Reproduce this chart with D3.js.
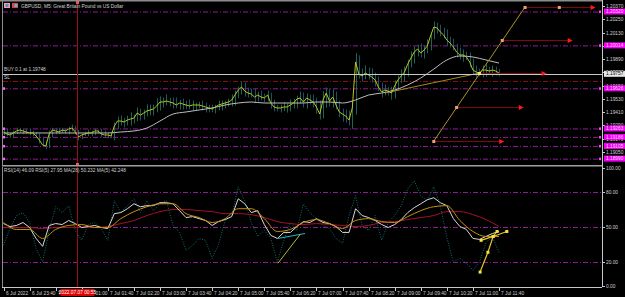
<!DOCTYPE html>
<html>
<head>
<meta charset="utf-8">
<script src="https://cdn.jsdelivr.net/npm/d3@7"></script>
<style>
html, body { margin: 0; padding: 0; background: #000; overflow: hidden; }
svg { display: block; font-family: "Liberation Sans", "DejaVu Sans", sans-serif; }
</style>
</head>
<body>
<script>
const width = 625;
const height = 297;

// GBPUSD M5 closes, one per bar starting 6 Jul 23:00
const closes = [
  1.19231,1.19213,1.19204,1.19222,1.19240,1.19249,1.19240,1.19231,1.19222,1.19222,1.19195,1.19158,1.19113,1.19104,1.19213,1.19249,
  1.19240,1.19231,1.19249,1.19240,1.19258,1.19267,1.19231,1.19186,1.19204,1.19213,1.19222,1.19222,1.19240,1.19240,1.19213,1.19204,
  1.19204,1.19195,1.19285,1.19330,1.19330,1.19321,1.19339,1.19348,1.19357,1.19402,1.19384,1.19402,1.19421,1.19430,1.19439,1.19466,
  1.19502,1.19502,1.19511,1.19502,1.19493,1.19475,1.19493,1.19484,1.19475,1.19466,1.19475,1.19475,1.19475,1.19466,1.19457,1.19448,
  1.19439,1.19457,1.19475,1.19484,1.19493,1.19502,1.19520,1.19565,1.19610,1.19638,1.19601,1.19583,1.19574,1.19547,1.19565,1.19547,
  1.19538,1.19565,1.19493,1.19457,1.19448,1.19448,1.19457,1.19457,1.19475,1.19493,1.19529,1.19538,1.19502,1.19538,1.19520,1.19502,
  1.19457,1.19393,1.19520,1.19583,1.19511,1.19547,1.19475,1.19412,1.19393,1.19375,1.19339,1.19448,1.19864,1.19755,1.19737,1.19764,
  1.19746,1.19728,1.19701,1.19638,1.19592,1.19610,1.19601,1.19583,1.19647,1.19701,1.19737,1.19773,1.19845,1.19900,1.19954,1.19981,
  1.19945,1.19972,1.20008,1.20099,1.20180,1.20171,1.20135,1.20108,1.20062,1.20035,1.19999,1.19954,1.19927,1.19927,1.19909,1.19864,
  1.19791,1.19773,1.19764,1.19791,1.19791,1.19782,1.19791,1.19782,1.19764
];
// wick lengths in pips above / below each candle body
const wickUp = [
  2,3,1,2,3,2,1,2,3,2,1,2,3,4,3,2, 2,3,2,1,2,3,2,2,1,2,3,2,2,1,2,3,
  2,1,3,4,5,3,4,6,3,5,4,3,6,5,4,7, 5,4,6,3,4,5,3,4,3,5,4,2,3,4,3,2,
  3,2,4,3,2,3,5,4,3,5,4,3,4,5,3,4, 3,4,2,3,2,3,4,3,5,4,3,6,5,4,3,5,
  4,6,8,5,4,7,5,4,3,4,5,6,8,6,5,7, 5,6,4,3,4,5,3,4,5,4,6,5,4,6,5,4,
  5,4,6,3,5,4,3,4,5,3,4,3,4,5,3,4, 3,4,3,4,5,3,4,3,2
];
const wickDn = [
  3,2,2,3,1,2,3,2,2,3,2,3,2,3,2,3, 3,2,1,2,3,2,2,3,2,1,2,3,2,2,3,2,
  3,2,4,3,4,5,3,5,4,3,5,4,3,4,5,3, 4,5,3,4,5,3,4,5,4,3,4,5,3,4,5,4,
  3,4,3,5,4,3,4,5,3,4,5,4,3,5,4,3, 4,3,5,4,3,4,3,5,4,3,5,4,5,6,4,5,
  6,5,4,7,5,6,4,5,7,6,5,8,6,4,5,3, 4,5,6,4,5,3,4,6,5,4,3,5,4,3,5,4,
  4,5,3,4,3,5,4,3,5,4,3,5,4,6,3,5, 4,5,3,4,6,3,5,4,3
];
// slow moving average on price, read every 4 bars
const maStep = 4;
const slowMA = [
  1.19222,1.19222,1.19222,1.19222,1.19222,1.19222,1.19222,1.19222,1.19222,1.19231,1.19240,1.19267,1.19330,
  1.19393,1.19412,1.19430,1.19448,1.19475,1.19493,1.19502,1.19493,1.19493,1.19493,1.19493,1.19502,1.19502,
  1.19493,1.19520,1.19565,1.19583,1.19610,1.19656,1.19719,1.19800,1.19882,1.19918,1.19909,1.19882,1.19854
];

// RSI window, fast series read every 2 bars, averages every 4 bars
const rsiStep = 2;
const rsi14 = [
  52.9,50.4,51.3,53.8,49.6,40.3,33.6,51.3,52.9,52.1,55.5,52.9,49.6,50.4,51.3,49.6,48.7,61.3,62.2,65.5,
  69.7,67.2,68.1,68.1,70.6,70.6,69.7,63.9,58.0,58.8,57.1,55.5,51.3,54.6,56.3,58.8,73.9,69.7,62.2,63.9,
  52.1,42.9,40.3,45.4,45.4,50.4,54.6,53.8,57.1,53.8,52.9,50.4,45.4,45.4,65.5,59.7,58.0,55.5,52.1,49.6,
  52.1,56.3,62.2,66.4,69.7,73.1,74.8,70.6,68.1,57.1,50.4,47.9,40.3,39.5,42.0,44.5,46.2
];
const rsi5 = [
  34.5,48.7,59.7,62.2,53.8,31.9,20.2,47.1,67.2,62.2,68.1,47.1,38.7,52.1,53.8,48.7,38.7,72.3,62.2,68.1,
  73.9,62.2,72.3,63.9,69.7,72.3,51.3,45.4,30.3,34.5,40.3,38.7,23.5,35.3,55.5,59.7,84.0,72.3,53.8,42.0,
  47.1,40.3,20.2,38.7,53.8,47.1,69.7,62.2,57.1,51.3,48.7,40.3,36.1,59.7,76.5,51.3,47.1,59.7,38.7,53.8,
  59.7,68.1,82.4,89.1,76.5,72.3,84.0,68.1,41.2,20.2,23.5,19.3,13.4,20.2,37.0,41.2,28.6
];
const rsiMa5 = [
  53.8,47.9,47.9,40.3,47.9,51.3,52.1,49.6,49.6,57.1,63.0,67.2,69.7,69.7,61.3,58.0,53.8,57.1,65.5,65.5,
  57.1,46.2,47.9,53.8,56.3,52.9,48.7,55.5,57.1,54.6,53.8,58.8,63.9,67.2,68.1,55.5,46.2,42.0,42.0
];
const rsiMa28 = [
  49.6,49.6,49.6,48.7,49.6,49.6,49.6,49.6,50.4,52.9,55.5,59.7,63.0,64.7,64.7,63.9,63.0,61.3,61.3,60.5,
  58.0,54.6,52.9,52.1,52.9,52.1,51.3,50.4,51.3,53.8,54.6,56.3,58.0,59.7,63.0,63.0,60.5,56.3,50.4
];

const priceTicks = [1.20370,1.20250,1.20130,1.20010,1.19890,1.19770,1.19650,1.19530,1.19410,1.19290,1.19170,1.19050];
const rsiTicks = [100, 80, 50, 20, 0];
const rsiLevels = [80, 50, 20];
const timeBars = [0,8,16,24,32,40,48,56,64,72,80,88,96,104,112,120,128,136,144,152];
const timeLabels = ['6 Jul 2022','6 Jul 23:40','7 Jul 00:20','7 Jul 01:00','7 Jul 01:40','7 Jul 02:20','7 Jul 03:00',
  '7 Jul 03:40','7 Jul 04:20','7 Jul 05:00','7 Jul 05:40','7 Jul 06:20','7 Jul 07:00','7 Jul 07:40','7 Jul 08:20',
  '7 Jul 09:00','7 Jul 09:40','7 Jul 10:20','7 Jul 11:00','7 Jul 11:40'];

const magentaLevels = [1.20320, 1.20014, 1.19626, 1.19263, 1.19186, 1.19105, 1.18990];
const slLevel = 1.19692;
const bidPrice = 1.19757;
const cursorBar = 22.5;

// expansion object: anchor points and their arrow targets
const fibBars = [132, 139, 146, 153, 160];
const fibPrices = [1.19149, 1.19457, 1.19764, 1.20062, 1.20361];
const fibEnds = [153, 159, 166, 174, 181];
const trendBars = [117, 146];
const trendPrices = [1.19583, 1.19764];
// small objects in the RSI window
const rsiLineA = {bars: [84.2, 92.5], vals: [40.3, 44.5]};
const rsiLineB = {bars: [84.2, 91], vals: [19.3, 43.7]};
const zigA = {bars: [146.2, 148.6, 150.2, 151.4], vals: [11.8, 28.6, 42.0, 46.2]};
const zigB = {bars: [146.5, 150.2, 154.4], vals: [38.7, 42.0, 46.2]};

const left = 3, axisX = 602;
const priceTop = 2, priceBottom = 165, rsiTop = 167, rsiBottom = 287;
const fs = 4.8;

let xs = d3.scaleLinear().domain([0, 152]).range([3.5, 499]);
let yp = d3.scaleLinear().domain([1.19050, 1.20370]).range([152, 6]);
let yr = d3.scaleLinear().domain([0, 100]).range([286, 168]);

let svg = d3.select('body')
  .append('svg')
  .attr('width', width)
  .attr('height', height);

svg.append('rect').attr('width', width).attr('height', height).attr('fill', '#000');

let defs = svg.append('defs');
defs.append('clipPath').attr('id', 'clipP')
  .append('rect').attr('x', left).attr('y', priceTop).attr('width', axisX - left).attr('height', priceBottom - priceTop);
defs.append('clipPath').attr('id', 'clipR')
  .append('rect').attr('x', left).attr('y', rsiTop).attr('width', axisX - left).attr('height', rsiBottom - rsiTop);

let gp = svg.append('g').attr('clip-path', 'url(#clipP)');
let gr = svg.append('g').attr('clip-path', 'url(#clipR)');

// horizontal levels in the price window
magentaLevels.forEach(v => {
  gp.append('line')
    .attr('x1', left).attr('x2', axisX)
    .attr('y1', yp(v) + 0.5).attr('y2', yp(v) + 0.5)
    .attr('stroke', '#8e1c96').attr('stroke-width', 1)
    .attr('stroke-dasharray', '5,2,1,2');
});
gp.append('line')
  .attr('x1', left).attr('x2', axisX)
  .attr('y1', yp(slLevel) + 0.5).attr('y2', yp(slLevel) + 0.5)
  .attr('stroke', '#8a0f14').attr('stroke-width', 1)
  .attr('stroke-dasharray', '5,2,1,2');

// candles
let bars = closes.map((c, i) => {
  let o = i > 0 ? closes[i - 1] : c;
  return {
    i: i,
    up: c >= o,
    hi: Math.max(o, c) + wickUp[i] * 0.0001,
    lo: Math.min(o, c) - wickDn[i] * 0.0001
  };
});
gp.selectAll('line.bar')
  .data(bars)
  .enter()
  .append('line')
  .attr('class', 'bar')
  .attr('x1', d => Math.round(xs(d.i)) + 0.5)
  .attr('x2', d => Math.round(xs(d.i)) + 0.5)
  .attr('y1', d => yp(d.hi))
  .attr('y2', d => yp(d.lo))
  .attr('stroke', d => d.up ? '#1c6450' : '#185466')
  .attr('stroke-width', 1);

// slow average
gp.append('path')
  .datum(slowMA)
  .attr('d', d3.line().x((d, k) => xs(k * maStep)).y(d => yp(d)).curve(d3.curveMonotoneX))
  .attr('fill', 'none')
  .attr('stroke', '#bdbdbd')
  .attr('stroke-width', 1);

// trend line
gp.append('line')
  .attr('x1', xs(trendBars[0])).attr('y1', yp(trendPrices[0]))
  .attr('x2', xs(trendBars[1])).attr('y2', yp(trendPrices[1]))
  .attr('stroke', '#a08a1c').attr('stroke-width', 1);

// close line
gp.append('path')
  .datum(closes)
  .attr('d', d3.line().x((d, i) => xs(i)).y(d => yp(d)))
  .attr('fill', 'none')
  .attr('stroke', '#b9c41a')
  .attr('stroke-width', 1);

// bid / buy line
gp.append('line')
  .attr('x1', left).attr('x2', axisX)
  .attr('y1', Math.round(yp(bidPrice)) + 0.5).attr('y2', Math.round(yp(bidPrice)) + 0.5)
  .attr('stroke', '#c8c8c8').attr('stroke-width', 1);

// expansion object
gp.append('line')
  .attr('x1', xs(fibBars[0])).attr('y1', yp(fibPrices[0]))
  .attr('x2', xs(fibBars[4])).attr('y2', yp(fibPrices[4]))
  .attr('stroke', '#a8962a').attr('stroke-width', 1);
fibBars.forEach((b, k) => {
  let y = Math.round(yp(fibPrices[k])) + 0.5;
  gp.append('line')
    .attr('x1', xs(b)).attr('x2', xs(fibEnds[k]))
    .attr('y1', y).attr('y2', y)
    .attr('stroke', '#7d0a0a').attr('stroke-width', 1.2);
  let xe = xs(fibEnds[k]);
  gp.append('path')
    .attr('d', `M${xe - 3},${y - 2.5}L${xe + 2},${y}L${xe - 3},${y + 2.5}Z`)
    .attr('fill', '#ff1a1a');
  gp.append('rect')
    .attr('x', xs(b) - 1.5).attr('y', y - 1.5).attr('width', 3).attr('height', 3)
    .attr('fill', k === 2 ? '#f5e26a' : '#f0a070');
});
{
  let y = Math.round(yp(fibPrices[4])) + 0.5;
  let xm = (xs(fibBars[4]) + xs(fibEnds[4])) / 2;
  gp.append('rect').attr('x', xm - 1.5).attr('y', y - 1.5).attr('width', 3).attr('height', 3).attr('fill', '#f0a070');
}

// level markers at the window edges
magentaLevels.forEach(v => {
  svg.append('rect').attr('x', axisX - 3).attr('y', yp(v) - 1).attr('width', 2).attr('height', 2.5).attr('fill', '#ff40ff');
});
magentaLevels.slice(2).forEach(v => {
  svg.append('rect').attr('x', left).attr('y', yp(v) - 1).attr('width', 2).attr('height', 2.5).attr('fill', '#ff60ff');
});

// RSI window
rsiLevels.forEach(v => {
  gr.append('line')
    .attr('x1', left).attr('x2', axisX)
    .attr('y1', Math.round(yr(v)) + 0.5).attr('y2', Math.round(yr(v)) + 0.5)
    .attr('stroke', '#8e1c96').attr('stroke-width', 1)
    .attr('stroke-dasharray', '5,2,1,2');
});

gr.append('path')
  .datum(rsi5)
  .attr('d', d3.line().x((d, k) => xs(k * rsiStep)).y(d => yr(d)))
  .attr('fill', 'none')
  .attr('stroke', '#11706e')
  .attr('stroke-width', 1)
  .attr('stroke-dasharray', '1,1.5');

gr.append('path')
  .datum(rsiMa28)
  .attr('d', d3.line().x((d, k) => xs(k * maStep)).y(d => yr(d)).curve(d3.curveMonotoneX))
  .attr('fill', 'none')
  .attr('stroke', '#a5122a')
  .attr('stroke-width', 1);

gr.append('path')
  .datum(rsi14)
  .attr('d', d3.line().x((d, k) => xs(k * rsiStep)).y(d => yr(d)))
  .attr('fill', 'none')
  .attr('stroke', '#d8d8d8')
  .attr('stroke-width', 1);

gr.append('path')
  .datum(rsiMa5)
  .attr('d', d3.line().x((d, k) => xs(k * maStep)).y(d => yr(d)).curve(d3.curveMonotoneX))
  .attr('fill', 'none')
  .attr('stroke', '#c8900c')
  .attr('stroke-width', 1);

let lineOf = (o) => d3.line().x((d, k) => xs(o.bars[k])).y(d => yr(d))(o.vals);
gr.append('path').attr('d', lineOf(rsiLineA)).attr('fill', 'none').attr('stroke', '#1fb8c8').attr('stroke-width', 1);
gr.append('path').attr('d', lineOf(rsiLineB)).attr('fill', 'none').attr('stroke', '#b8b83a').attr('stroke-width', 1);
[zigA, zigB].forEach(o => {
  gr.append('path').attr('d', lineOf(o)).attr('fill', 'none').attr('stroke', '#e8c81e').attr('stroke-width', 1.2);
  o.bars.forEach((b, k) => {
    gr.append('rect')
      .attr('x', xs(b) - 1.5).attr('y', yr(o.vals[k]) - 1.5)
      .attr('width', 3).attr('height', 3).attr('fill', '#f8e040');
  });
});

// cursor line
let cx = Math.round(xs(cursorBar)) + 0.5;
svg.append('line')
  .attr('x1', cx).attr('x2', cx).attr('y1', 2).attr('y2', rsiBottom)
  .attr('stroke', '#9a0d10').attr('stroke-width', 1);
svg.append('rect').attr('x', cx - 1.5).attr('y', 1).attr('width', 3).attr('height', 3).attr('fill', '#ff5050');
svg.append('rect').attr('x', cx - 1.5).attr('y', priceBottom - 2).attr('width', 3).attr('height', 3).attr('fill', '#ff5050');

// frames
const frame = '#8c8c8c';
svg.append('rect').attr('x', 0).attr('y', 0).attr('width', axisX).attr('height', 1.5).attr('fill', frame);
svg.append('line').attr('x1', 2.5).attr('x2', 2.5).attr('y1', 0).attr('y2', rsiBottom).attr('stroke', frame);
svg.append('line').attr('x1', 2).attr('x2', axisX).attr('y1', priceBottom + 0.5).attr('y2', priceBottom + 0.5).attr('stroke', '#a0a0a0');
svg.append('line').attr('x1', 2).attr('x2', axisX).attr('y1', rsiTop - 0.5).attr('y2', rsiTop - 0.5).attr('stroke', '#505050');
svg.append('line').attr('x1', axisX + 0.5).attr('x2', axisX + 0.5).attr('y1', 0).attr('y2', rsiBottom).attr('stroke', '#c8c8c8');
svg.append('line').attr('x1', 2).attr('x2', axisX).attr('y1', rsiBottom + 0.5).attr('y2', rsiBottom + 0.5).attr('stroke', '#c8c8c8');

// price axis
let tickText = (g, x, y, t) => g.append('text')
  .attr('x', x).attr('y', y).attr('dy', '0.35em')
  .attr('font-size', fs).attr('fill', '#d0d0d0').text(t);
priceTicks.forEach(v => {
  let y = Math.round(yp(v)) + 0.5;
  svg.append('line').attr('x1', axisX).attr('x2', axisX + 3).attr('y1', y).attr('y2', y).attr('stroke', '#c8c8c8');
  tickText(svg, axisX + 4, y, v.toFixed(5));
});
magentaLevels.forEach(v => {
  let y = yp(v);
  svg.append('rect').attr('x', axisX + 2).attr('y', y - 3).attr('width', 21).attr('height', 6).attr('fill', '#f000f0');
  svg.append('text').attr('x', axisX + 4).attr('y', y).attr('dy', '0.35em')
    .attr('font-size', fs).attr('fill', '#ffd8ff').text(v.toFixed(5));
});
{
  let y = yp(bidPrice);
  svg.append('rect').attr('x', axisX + 2).attr('y', y - 3).attr('width', 21).attr('height', 6).attr('fill', '#e6e6e6');
  svg.append('text').attr('x', axisX + 4).attr('y', y).attr('dy', '0.35em')
    .attr('font-size', fs).attr('fill', '#000').text(bidPrice.toFixed(5));
}

// RSI axis
rsiTicks.forEach(v => {
  let y = Math.round(yr(v)) + 0.5;
  svg.append('line').attr('x1', axisX).attr('x2', axisX + 3).attr('y1', y).attr('y2', y).attr('stroke', '#c8c8c8');
  tickText(svg, axisX + 4, y, v.toFixed(2));
});

// time axis
timeBars.forEach((b, k) => {
  let x = Math.round(xs(b)) + 0.5;
  svg.append('line').attr('x1', x).attr('x2', x).attr('y1', rsiBottom).attr('y2', rsiBottom + 4).attr('stroke', '#c8c8c8');
  svg.append('text').attr('x', x + 1.5).attr('y', 293).attr('dy', '0.35em')
    .attr('font-size', fs).attr('fill', '#d0d0d0').text(timeLabels[k]);
});
svg.append('rect').attr('x', cx - 17).attr('y', 289).attr('width', 34).attr('height', 7).attr('fill', '#e00000');
svg.append('text').attr('x', cx).attr('y', 292.7).attr('dy', '0.35em').attr('text-anchor', 'middle')
  .attr('font-size', fs).attr('fill', '#fff').text('2022.07.07 00:55');

// window captions
svg.append('rect').attr('x', 4).attr('y', 3).attr('width', 6).attr('height', 5).attr('fill', '#f0a0b0');
svg.append('rect').attr('x', 5.5).attr('y', 4).attr('width', 3).attr('height', 3).attr('fill', '#5a8ad0');
svg.append('rect').attr('x', 12).attr('y', 3).attr('width', 6).attr('height', 5).attr('fill', '#e04040');
svg.append('rect').attr('x', 14.5).attr('y', 4).attr('width', 3).attr('height', 3).attr('fill', '#60b0e0');
svg.append('text').attr('x', 21).attr('y', 6).attr('dy', '0.35em')
  .attr('font-size', fs).attr('fill', '#d0d0d0').text('GBPUSD, M5:  Great Britain Pound vs US Dollar');
svg.append('text').attr('x', 4).attr('y', yp(bidPrice) - 2.5)
  .attr('font-size', fs).attr('fill', '#d0d0d0').text('BUY 0.1 at 1.19748');
svg.append('text').attr('x', 4).attr('y', yp(slLevel) - 2)
  .attr('font-size', fs).attr('fill', '#d0d0d0').text('SL');
svg.append('text').attr('x', 4).attr('y', 170).attr('dy', '0.35em')
  .attr('font-size', fs).attr('fill', '#d0d0d0').text('RSI(14) 46.09 RSI(5) 27.95 MA(28) 50.232 MA(5) 42.248');
</script>
</body>
</html>
